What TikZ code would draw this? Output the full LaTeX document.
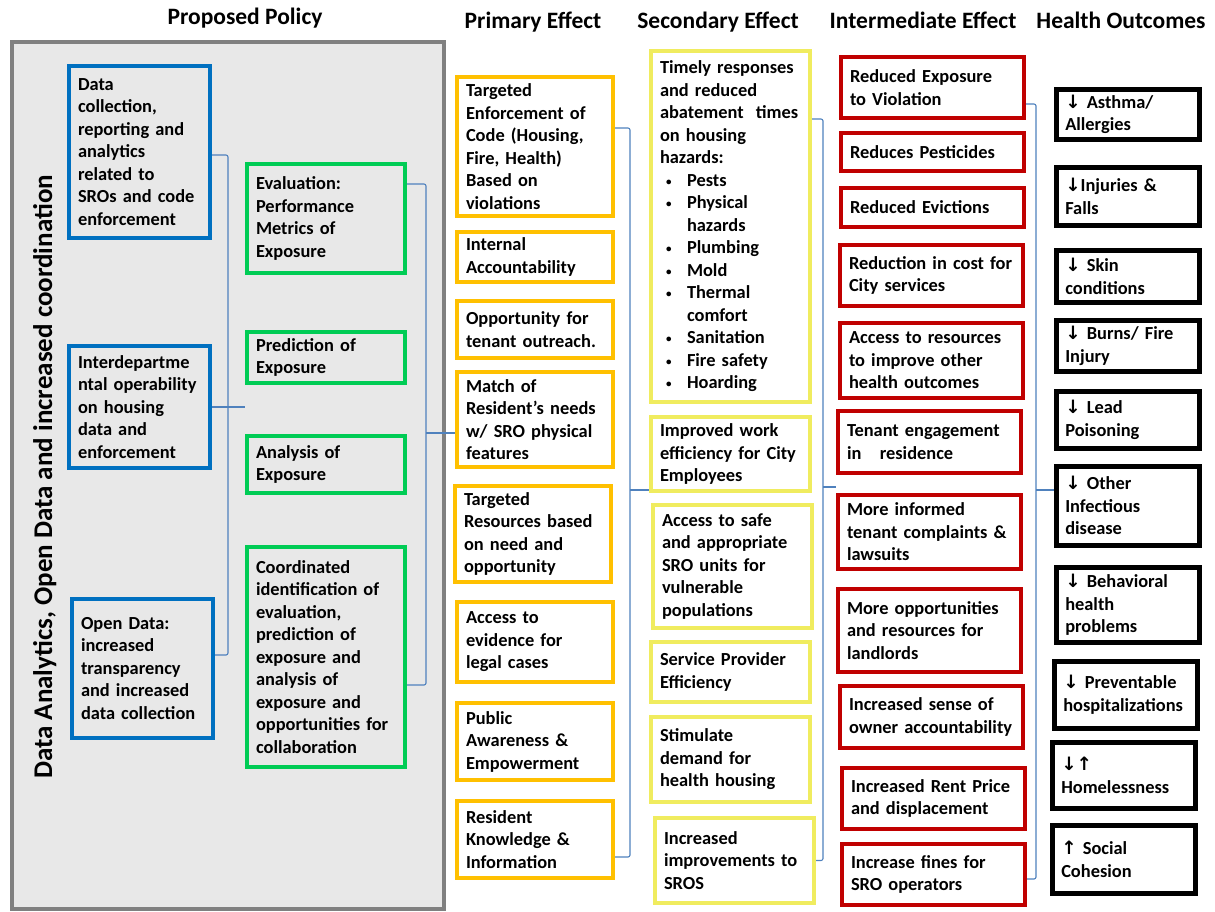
\documentclass[tikz,border=0pt]{standalone}
\usepackage{fontspec}
\setmainfont{Carlito}
\newfontfamily\arrowfont{DejaVu Sans}
\newcommand{\dnarr}{{\arrowfont ↓}}
\newcommand{\uparr}{{\arrowfont ↑}}
\newcommand{\bul}{\hspace*{6pt}\makebox[21pt][l]{\raisebox{1pt}{\fontsize{11}{11}\selectfont\textbullet}}}

\begin{document}
\begin{tikzpicture}[x=1pt,y=1pt,yscale=-1,xscale=1,
  box/.style={draw, line width=4pt, anchor=north west, inner xsep=9pt, inner ysep=1pt, align=left, font=\fontsize{18.4}{22.5}\selectfont\bfseries},
  bluebox/.style={box, draw={rgb, 255:red, 0; green, 112; blue, 192}, text width=123pt},
  greenbox/.style={box, draw={rgb, 255:red, 0; green, 204; blue, 85}, text width=140pt},
  orangebox/.style={box, draw={rgb, 255:red, 255; green, 192; blue, 0}, text width=138pt},
  yellowbox/.style={box, draw={rgb, 255:red, 240; green, 236; blue, 95}, text width=141pt},
  redbox/.style={box, draw={rgb, 255:red, 192; green, 0; blue, 0}, text width=165pt},
  blackbox/.style={box, draw={rgb, 255:red, 0; green, 0; blue, 0}, line width=4.5pt, text width=125pt},
  head/.style={anchor=base, inner sep=0pt, font=\fontsize{23.5}{28}\selectfont\bfseries},
  link/.style={draw={rgb, 255:red, 79; green, 129; blue, 189}, line width=1.1pt, rounded corners=2pt}]
\useasboundingbox (0,0) rectangle (1215,911);

% Panel behind the proposed policy
\draw [line width=4pt, draw={rgb, 255:red, 128; green, 128; blue, 128}, fill={rgb, 255:red, 232; green, 232; blue, 232}] (11.5,42) rectangle (444,908.5);

% Headings
\node [head] (hpol) at (245,24) {Proposed Policy};
\node [head] (hpri) at (533,28) {Primary Effect};
\node [head] (hsec) at (718,28) {Secondary Effect};
\node [head] (hint) at (923,28) {Intermediate Effect};
\node [head] (hout) at (1121,28) {Health Outcomes};

\node [rotate=90, anchor=base, inner sep=0pt, font=\fontsize{27}{32}\selectfont\bfseries] (side) at (52,477) {Data Analytics, Open Data and increased coordination};

% Proposed policy
\node [bluebox, minimum height=172pt] (b1) at (67,64) {Data\\collection,\\reporting and\\analytics\\related to\\SROs and code\\enforcement};
\node [bluebox, minimum height=122pt] (b2) at (67,344) {Interdepartme\\ntal operability\\on housing\\data and\\enforcement};
\node [bluebox, minimum height=139pt] (b3) at (70,597) {Open Data:\\increased\\transparency\\and increased\\data collection};

\node [greenbox, minimum height=109pt] (g1) at (245,162) {Evaluation:\\Performance\\Metrics of\\Exposure};
\node [greenbox, minimum height=51pt] (g2) at (245,330) {Prediction of\\Exposure};
\node [greenbox, minimum height=57pt] (g3) at (245,434) {Analysis of\\Exposure};
\node [greenbox, minimum height=220pt] (g4) at (245,545) {Coordinated\\identification of\\evaluation,\\prediction of\\exposure and\\analysis of\\exposure and\\opportunities for\\collaboration};

% Primary effect
\node [orangebox, minimum height=139pt] (o1) at (455,75) {Targeted\\Enforcement of\\Code (Housing,\\Fire, Health)\\Based on\\violations};
\node [orangebox, minimum height=50pt] (o2) at (455,230) {Internal\\Accountability};
\node [orangebox, minimum height=57pt] (o3) at (455,299) {Opportunity for\\tenant outreach.};
\node [orangebox, minimum height=95pt] (o4) at (455,370) {Match of\\Resident’s needs\\w/ SRO physical\\features};
\node [orangebox, minimum height=96pt] (o5) at (453,484) {Targeted\\Resources based\\on need and\\opportunity};
\node [orangebox, minimum height=80pt] (o6) at (455,600) {Access to\\evidence for\\legal cases};
\node [orangebox, minimum height=77pt] (o7) at (455,701) {Public\\Awareness \&\\Empowerment};
\node [orangebox, minimum height=77pt] (o8) at (455,799) {Resident\\Knowledge \&\\Information};

% Secondary effect
\node [yellowbox, minimum height=351pt] (y1) at (649,49) {Timely responses\\and reduced\\abatement\ \ times\\on housing\\hazards:\\
  \bul Pests\\ \bul Physical\\ \hspace*{27pt}hazards\\ \bul Plumbing\\ \bul Mold\\ \bul Thermal\\ \hspace*{27pt}comfort\\ \bul Sanitation\\ \bul Fire safety\\ \bul Hoarding};
\node [yellowbox, minimum height=74pt] (y2) at (649,415) {Improved work\\efficiency for City\\Employees};
\node [yellowbox, minimum height=123pt] (y3) at (651,503) {Access to safe\\and appropriate\\SRO units for\\vulnerable\\populations};
\node [yellowbox, minimum height=60pt] (y4) at (649,640) {Service Provider\\Efficiency};
\node [yellowbox, minimum height=85pt] (y5) at (649,715) {Stimulate\\demand for\\health housing};
\node [yellowbox, minimum height=85pt] (y6) at (653,816) {Increased\\improvements to\\SROS};

% Intermediate effect
\node [redbox, minimum height=61pt] (r1) at (839,55) {Reduced Exposure\\to Violation};
\node [redbox, minimum height=38pt] (r2) at (839,131) {Reduces Pesticides};
\node [redbox, minimum height=39pt] (r3) at (839,186) {Reduced Evictions};
\node [redbox, minimum height=61pt] (r4) at (838,243) {Reduction in cost for\\City services};
\node [redbox, minimum height=75pt] (r5) at (838,321) {Access to resources\\to improve other\\health outcomes};
\node [redbox, minimum height=62pt] (r6) at (836,409) {Tenant engagement\\in\ \ \ residence};
\node [redbox, minimum height=74pt] (r7) at (836,493) {More informed\\tenant complaints \&\\lawsuits};
\node [redbox, minimum height=83pt] (r8) at (836,587) {More opportunities\\and resources for\\landlords};
\node [redbox, minimum height=62pt] (r9) at (838,684) {Increased sense of\\owner accountability};
\node [redbox, minimum height=61pt] (r10) at (840,766) {Increased Rent Price\\and displacement};
\node [redbox, minimum height=61pt] (r11) at (840,842) {Increase fines for\\SRO operators};

% Health outcomes
\node [blackbox, minimum height=50pt] (k1) at (1054,87) {\dnarr{} Asthma/\\Allergies};
\node [blackbox, minimum height=58pt] (k2) at (1054,165) {\dnarr Injuries \&\\Falls};
\node [blackbox, minimum height=52pt] (k3) at (1054,248) {\dnarr{} Skin\\conditions};
\node [blackbox, minimum height=51pt] (k4) at (1054,318) {\dnarr{} Burns/ Fire\\Injury};
\node [blackbox, minimum height=57pt] (k5) at (1054,389) {\dnarr{} Lead\\Poisoning};
\node [blackbox, minimum height=79pt] (k6) at (1054,464) {\dnarr{} Other\\Infectious\\disease};
\node [blackbox, minimum height=75pt] (k7) at (1054,565) {\dnarr{} Behavioral\\health\\problems};
\node [blackbox, minimum height=67pt] (k8) at (1052,659) {\dnarr{} Preventable\\hospitalizations};
\node [blackbox, minimum height=66pt] (k9) at (1050,740) {\dnarr\uparr\\Homelessness};
\node [blackbox, minimum height=68pt] (k10) at (1050,823) {\uparr{} Social\\Cohesion};

% Braces (yshift counts down here, as y is flipped)
\coordinate (bv) at (228,405);
\draw [link] ([yshift=3pt]b1.east) -| (bv) |- ([yshift=-13.5pt]b3.east);
\draw [link] (b2.east) -- (b2.east -| g3.west);

\coordinate (gv) at (426,433);
\draw [link] ([yshift=-34.5pt]g1.east) -| (gv) |- ([yshift=28pt]g4.east);
\draw [link] (gv) -- (gv -| o4.west);

\coordinate (ov) at (630,490);
\draw [link] ([yshift=-18.5pt]o1.east) -| (ov) |- ([yshift=17.5pt]o8.east);
\draw [link] (ov) -- (ov -| y2.west);

\coordinate (yv) at (823,487);
\draw [link] ([yshift=-107.5pt]y1.east) -| (yv) |- (y6.east);
\draw [link] (yv) -- (yv -| r7.west);

\coordinate (rv) at (1036,490);
\draw [link] ([yshift=16.5pt]r1.east) -| (rv) |- ([yshift=4.5pt]r11.east);
\draw [link] (rv) -- (rv -| k6.west);

\end{tikzpicture}
\end{document}
